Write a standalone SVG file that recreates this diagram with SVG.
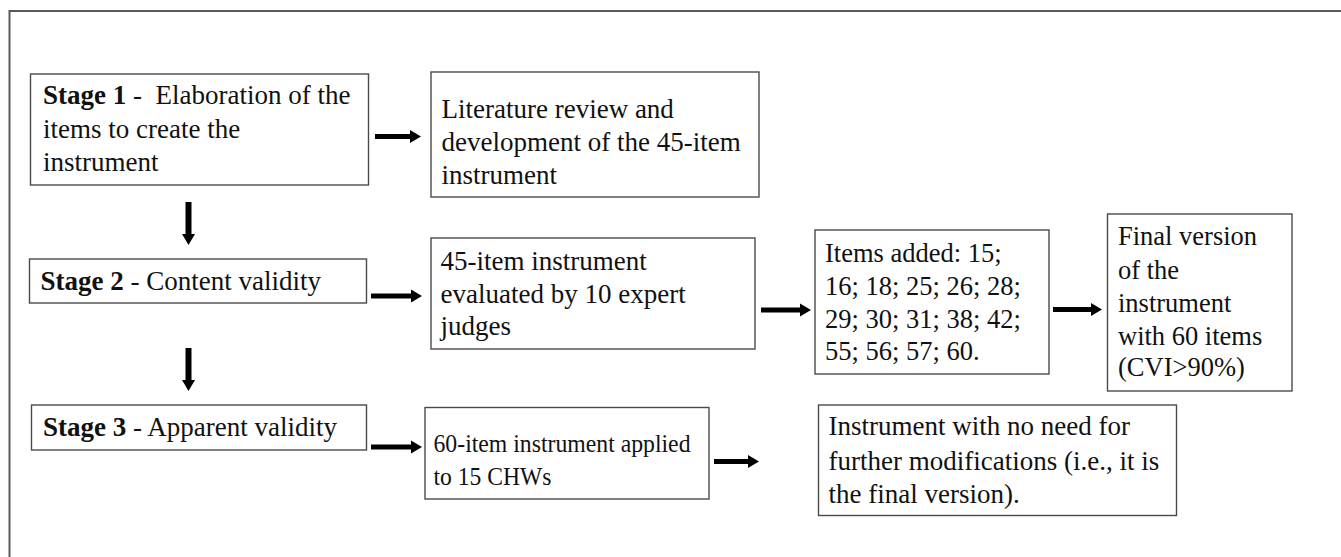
<svg xmlns="http://www.w3.org/2000/svg" width="1341" height="557" viewBox="0 0 1341 557">
<style>
.box{fill:#fff;stroke:#4a4a4a;stroke-width:1.4}
.t{font-family:'Liberation Serif','DejaVu Serif',serif;font-size:27px;fill:#111}
.s{font-size:26.5px}
.a{font-size:26px}
.b{font-weight:bold}
.con{stroke:#000;stroke-width:5;fill:none}
.v{stroke-width:6}
</style>
<defs>
<marker id="ah" markerUnits="userSpaceOnUse" markerWidth="11" markerHeight="14" refX="0" refY="7" orient="auto" viewBox="0 0 11 14">
<path d="M0,0.5 L11,7 L0,13.5 z" fill="#000"/>
</marker>
</defs>
<rect width="1341" height="557" fill="#fff"/>
<path d="M9.5,557 V11 H1341" fill="none" stroke="#5a5a5a" stroke-width="2"/>
<g id="connectors">
<line class="con" x1="375" y1="136.5" x2="410" y2="136.5" marker-end="url(#ah)"/>
<line class="con v" x1="188.5" y1="202" x2="188.5" y2="234" marker-end="url(#ah)"/>
<line class="con v" x1="188.5" y1="348" x2="188.5" y2="380" marker-end="url(#ah)"/>
<line class="con" x1="371" y1="296" x2="411" y2="296" marker-end="url(#ah)"/>
<line class="con" x1="371" y1="447" x2="411" y2="447" marker-end="url(#ah)"/>
<line class="con" x1="761" y1="310" x2="800" y2="310" marker-end="url(#ah)"/>
<line class="con" x1="1053" y1="309.5" x2="1091" y2="309.5" marker-end="url(#ah)"/>
<line class="con" x1="714" y1="461.5" x2="748" y2="461.5" marker-end="url(#ah)"/>
</g>
<g id="stage1">
<rect class="box" x="30.5" y="74" width="338" height="111"/>
<text class="t" x="43" y="104" style="white-space:pre"><tspan class="b">Stage 1</tspan> -  Elaboration of the</text>
<text class="t" x="43" y="138">items to create the</text>
<text class="t" x="43" y="171">instrument</text>
</g>
<g id="literature">
<rect class="box" x="431" y="72" width="328" height="125"/>
<text class="t" x="441.5" y="118">Literature review and</text>
<text class="t" x="441.5" y="151">development of the 45-item</text>
<text class="t" x="441.5" y="184">instrument</text>
</g>
<g id="stage2">
<rect class="box" x="29.5" y="259" width="337" height="44"/>
<text class="t" x="40.5" y="290"><tspan class="b">Stage 2</tspan> - Content validity</text>
</g>
<g id="evaluated">
<rect class="box" x="431" y="238" width="324" height="111"/>
<text class="t" x="440.5" y="270">45-item instrument</text>
<text class="t" x="440.5" y="303">evaluated by 10 expert</text>
<text class="t" x="440.5" y="335">judges</text>
</g>
<g id="itemsadded">
<rect class="box" x="815" y="230" width="234" height="144"/>
<text class="t s" x="825" y="262">Items added: 15;</text>
<text class="t s" x="825" y="294.5">16; 18; 25; 26; 28;</text>
<text class="t s" x="825" y="327.5">29; 30; 31; 38; 42;</text>
<text class="t s" x="825" y="360">55; 56; 57; 60.</text>
</g>
<g id="finalversion">
<rect class="box" x="1107.5" y="214" width="184.5" height="177"/>
<text class="t s" x="1118" y="245">Final version</text>
<text class="t s" x="1118" y="278.5">of the</text>
<text class="t s" x="1118" y="311.5">instrument</text>
<text class="t s" x="1118" y="344.5">with 60 items</text>
<text class="t s" x="1118" y="376">(CVI&gt;90%)</text>
</g>
<g id="stage3">
<rect class="box" x="31.5" y="405" width="335" height="45"/>
<text class="t" x="43" y="436"><tspan class="b">Stage 3</tspan> - Apparent validity</text>
</g>
<g id="applied">
<rect class="box" x="425" y="407.5" width="284" height="91.5"/>
<text class="t a" x="433.5" y="452" textLength="257" lengthAdjust="spacingAndGlyphs">60-item instrument applied</text>
<text class="t a" x="433.5" y="485" textLength="118" lengthAdjust="spacingAndGlyphs">to 15 CHWs</text>
</g>
<g id="noneed">
<rect class="box" x="818.5" y="405" width="358" height="110.5"/>
<text class="t" x="828.5" y="435">Instrument with no need for</text>
<text class="t" x="828.5" y="470">further modifications (i.e., it is</text>
<text class="t" x="828.5" y="503">the final version).</text>
</g>
</svg>
